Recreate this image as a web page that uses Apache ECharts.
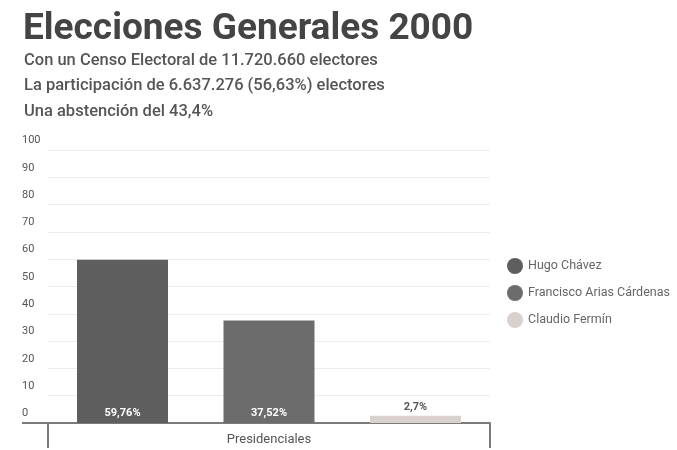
<!DOCTYPE html>
<html>
<head>
<meta charset="utf-8">
<script src="https://cdn.jsdelivr.net/npm/echarts@6/dist/echarts.min.js"></script>
<style>
  html, body { margin: 0; padding: 0; background: #ffffff; }
  #chart { width: 677px; height: 450px; }
</style>
</head>
<body>
<div id="chart"></div>
<script>
// Resultados presidenciales 2000 (% de votos válidos)
const categories = ['Presidenciales'];
const candidates = ['Hugo Chávez', 'Francisco Arias Cárdenas', 'Claudio Fermín'];
const votePercent = [59.76, 37.52, 2.7];
const voteLabels = ['59,76%', '37,52%', '2,7%'];
const candidateColors = ['#5e5e5e', '#6c6c6c', '#d8d1ce'];
const yTicks = [0, 10, 20, 30, 40, 50, 60, 70, 80, 90, 100];

const titleText = 'Elecciones Generales 2000';
const subtitleLines = [
  'Con un Censo Electoral de 11.720.660 electores',
  'La participación de 6.637.276 (56,63%) electores',
  'Una abstención del 43,4%'
];

const FONT = 'Roboto, "Noto Sans", sans-serif';
const chart = echarts.init(document.getElementById('chart'), null, { renderer: 'canvas' });

const series = candidates.map((name, i) => ({
  name: name,
  type: 'bar',
  barWidth: 91,
  barGap: '61%',
  itemStyle: { color: candidateColors[i] },
  data: [votePercent[i]],
  label: {
    show: true,
    position: votePercent[i] < 10 ? 'top' : 'insideBottom',
    distance: votePercent[i] < 10 ? 3 : 4,
    formatter: () => voteLabels[i],
    color: votePercent[i] < 10 ? '#555555' : '#ffffff',
    fontFamily: FONT,
    fontSize: 11,
    fontWeight: 'bold'
  }
}));

const option = {
  backgroundColor: '#ffffff',
  animation: false,
  title: [
    {
      text: titleText,
      left: 18,
      top: 6,
      textStyle: { fontFamily: FONT, fontSize: 37, fontWeight: 'bold', color: '#444444' }
    },
    ...subtitleLines.map((line, i) => ({
      text: line,
      left: 19,
      top: 47 + i * 25.5,
      textStyle: { fontFamily: FONT, fontSize: 16.5, fontWeight: 500, color: '#555555' }
    }))
  ],
  legend: {
    orient: 'vertical',
    left: 502,
    top: 253,
    icon: 'circle',
    itemWidth: 16,
    itemHeight: 16,
    itemGap: 11,
    data: candidates,
    textStyle: { fontFamily: FONT, fontSize: 12.5, color: '#666666' }
  },
  grid: { left: 48, right: 187, top: 150, bottom: 27, containLabel: false },
  xAxis: {
    type: 'category',
    data: categories,
    axisLine: { lineStyle: { color: '#7a7a7a', width: 2 } },
    axisTick: { show: true, length: 25, lineStyle: { color: '#7a7a7a', width: 2 } },
    axisLabel: { fontFamily: FONT, fontSize: 13, color: '#555555', margin: 10 }
  },
  yAxis: {
    type: 'value',
    min: yTicks[0],
    max: yTicks[yTicks.length - 1],
    interval: 10,
    axisLine: { show: false },
    axisTick: { show: false },
    splitLine: { lineStyle: { color: '#ececec', width: 1 } },
    axisLabel: {
      fontFamily: FONT,
      fontSize: 11,
      color: '#555555',
      align: 'left',
      margin: 26,
      verticalAlign: 'bottom',
      padding: [0, 0, 4, 0]
    }
  },
  graphic: [
    {
      // prolongación de la línea base hacia la izquierda
      type: 'line',
      shape: { x1: 22, y1: 423, x2: 48, y2: 423 },
      style: { stroke: '#7a7a7a', lineWidth: 2 },
      silent: true
    }
  ],
  series: series
};

chart.setOption(option);
</script>
</body>
</html>
